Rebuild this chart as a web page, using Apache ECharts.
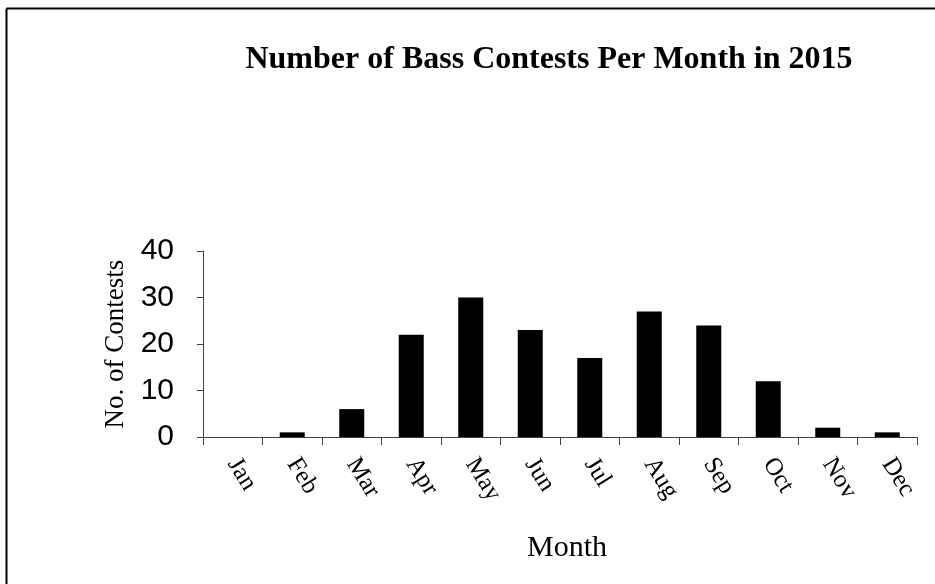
<!DOCTYPE html>
<html><head><meta charset="utf-8">
<script src="https://cdn.jsdelivr.net/npm/echarts@6/dist/echarts.min.js"></script>
<style>html,body{margin:0;padding:0;background:#fff}#c{width:935px;height:584px}</style>
</head><body><div id="c"></div>
<script>
const months = ['Jan','Feb','Mar','Apr','May','Jun','Jul','Aug','Sep','Oct','Nov','Dec'];
const contests = [0,1,6,22,30,23,17,27,24,12,2,1];
const yTicks = {min:0,max:40,interval:10};
const titleText = 'Number of Bass Contests Per Month in 2015';

const chart = echarts.init(document.getElementById('c'), null, {renderer:'canvas'});
chart.setOption({
  animation:false,
  backgroundColor:'#fff',
  title:{text:titleText,left:544,top:39,textAlign:'center',
    textStyle:{fontFamily:'Liberation Serif',fontWeight:'bold',fontSize:32,color:'#000'}},
  graphic:[
    {type:'line',shape:{x1:6.5,y1:8.5,x2:935,y2:8.5},style:{stroke:'#000',lineWidth:2}},
    {type:'line',shape:{x1:6.5,y1:8.5,x2:6.5,y2:584},style:{stroke:'#000',lineWidth:2}}
  ],
  grid:{left:203,right:18,top:251,height:186,containLabel:false},
  xAxis:{type:'category',data:months,boundaryGap:true,
    name:'Month',nameLocation:'middle',nameGap:96,
    nameTextStyle:{fontFamily:'Liberation Serif',fontSize:30,color:'#000',padding:[0,0,0,14]},
    axisLine:{lineStyle:{color:'#404040',width:1}},
    axisTick:{show:true,length:8,alignWithLabel:false,lineStyle:{color:'#404040'}},
    axisLabel:{rotate:-58,margin:23,fontFamily:'Liberation Serif',fontSize:25,color:'#000'},
    splitLine:{show:false}},
  yAxis:{type:'value',min:yTicks.min,max:yTicks.max,interval:yTicks.interval,
    name:'No. of Contests',nameLocation:'middle',nameGap:73,
    nameTextStyle:{fontFamily:'Liberation Serif',fontSize:27,color:'#000'},
    axisLine:{show:true,lineStyle:{color:'#404040',width:1}},
    axisTick:{show:true,length:6,lineStyle:{color:'#404040'}},
    axisLabel:{margin:29,fontFamily:'Liberation Sans',fontSize:30,color:'#000'},
    splitLine:{show:false}},
  series:[{type:'bar',data:contests,barWidth:25,itemStyle:{color:'#000'}}]
});
</script></body></html>
